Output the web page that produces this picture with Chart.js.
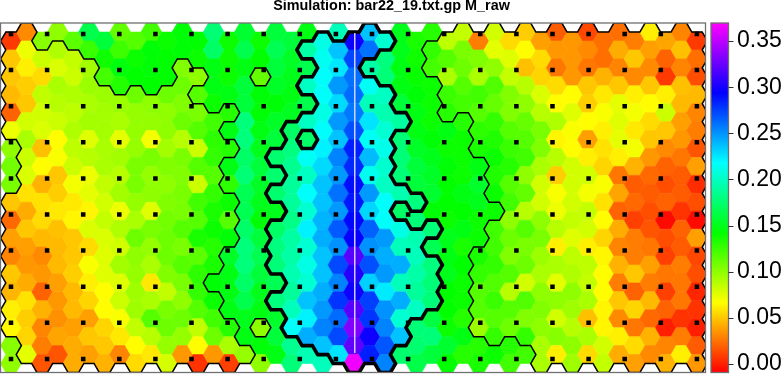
<!DOCTYPE html>
<html>
<head>
<meta charset="utf-8">
<style>
    html, body { margin: 0; padding: 0; background: #fff; }
    canvas { display: block; }
</style>
<script src="https://cdn.jsdelivr.net/npm/chart.js@4"></script>
</head>
<body>
<canvas id="grafico" width="783" height="374"></canvas>
<script>
// M_raw por coluna de hexagonos (x 1000), de cima para baixo
const col00 = [8,50,50,46,20,72,100,108,106,50,22,38,30,50,45,62,65,102,100];
const col01 = [32,72,62,52,50,80,92,82,78,58,42,50,38,36,42,58,52,54,75];
const col02 = [102,82,56,85,80,78,48,66,44,58,56,46,32,36,20,44,30,28,16];
const col03 = [100,90,78,92,88,82,66,68,50,52,60,48,46,46,38,36,34,40,16];
const col04 = [115,84,82,90,86,90,86,82,70,60,64,50,50,52,46,46,38,42,42];
const col05 = [165,125,94,96,92,94,76,88,72,74,64,78,56,68,62,54,38,50,38];
const col06 = [160,138,122,96,94,94,92,92,85,80,84,78,76,76,66,66,54,50,44];
const col07 = [113,124,146,132,96,92,74,94,88,94,72,90,80,94,76,82,68,60,30];
const col08 = [117,139,142,110,98,98,98,106,106,98,92,110,100,98,95,95,85,66,56];
const col09 = [123,144,144,142,100,98,70,106,98,100,76,106,98,92,60,92,117,88,60];
const col10 = [139,142,142,110,100,100,94,104,100,104,108,110,110,104,85,106,110,98,79];
const col11 = [144,144,104,110,104,110,88,106,104,106,106,117,106,117,106,100,110,98,36];
const col12 = [142,139,100,117,106,117,82,117,82,123,117,135,115,129,127,117,85,66,6];
const col13 = [177,172,148,148,139,123,129,127,117,127,135,139,131,135,144,139,123,110,36];
const col14 = [139,139,139,148,131,148,131,148,129,139,117,144,154,148,148,148,131,92,10];
const col15 = [157,165,148,160,160,179,179,173,177,167,167,173,179,179,173,165,150,148,98];
const col16 = [139,142,112,144,144,148,150,160,154,150,144,160,167,160,150,148,100,145,100];
const col17 = [160,167,160,154,144,154,160,175,175,175,150,172,180,178,167,180,155,160,148];
const col18 = [160,154,150,148,152,172,180,185,188,188,182,190,192,195,188,198,217,185,178];
const col19 = [148,192,165,200,165,200,172,215,200,217,205,222,205,210,205,236,222,242,196];
const col20 = [210,214,217,217,210,217,222,229,236,236,240,242,236,236,242,248,255,236,198];
const col21 = [198,236,225,248,229,248,236,255,248,260,248,267,250,272,255,278,262,272,226];
const col22 = [298,273,260,262,258,270,285,282,290,287,292,296,320,305,298,320,332,323,365];
const col23 = [236,260,192,215,198,226,215,238,214,248,230,265,250,270,232,275,278,298,285];
const col24 = [205,180,178,200,195,205,212,204,200,217,217,248,242,248,224,250,255,268,255];
const col25 = [150,150,148,148,160,190,178,178,178,195,172,210,198,242,198,242,205,236,175];
const col26 = [135,138,140,144,148,148,154,160,160,180,178,195,198,192,188,200,178,175,164];
const col27 = [131,127,122,139,139,139,144,150,154,157,144,178,167,180,178,178,162,178,160];
const col28 = [86,117,92,125,131,148,139,144,142,142,139,150,148,150,142,142,139,156,142];
const col29 = [84,106,110,117,122,131,139,139,139,148,142,148,135,142,139,139,131,148,131];
const col30 = [28,104,92,123,117,129,135,148,155,150,139,139,135,127,117,117,96,131,135];
const col31 = [80,75,100,118,112,127,133,139,133,139,139,123,123,127,118,125,117,127,139];
const col32 = [56,76,84,104,104,117,125,131,117,123,100,110,104,117,88,117,110,131,123];
const col33 = [52,66,48,88,100,112,117,123,100,113,88,117,106,110,80,118,104,127,123];
const col34 = [38,56,54,78,88,106,104,92,80,80,100,106,96,92,100,104,100,92,92];
const col35 = [18,36,26,56,66,90,64,88,52,68,72,88,62,92,75,100,80,102,62];
const col36 = [36,36,36,66,76,68,66,80,80,80,84,76,86,90,100,95,88,100,95];
const col37 = [12,32,26,50,52,66,38,62,80,70,84,80,62,86,84,92,48,92,56];
const col38 = [24,24,44,60,68,62,58,54,68,58,66,54,64,66,66,64,64,80,84];
const col39 = [24,42,30,50,74,76,74,62,26,40,20,42,30,44,28,50,32,62,42];
const col40 = [28,50,32,62,70,60,70,44,18,22,10,28,28,50,20,54,26,56,38];
const col41 = [62,38,32,50,66,56,50,36,22,18,14,16,26,38,28,46,22,44,32];
const col42 = [40,20,8,62,82,50,32,20,14,20,-6,14,10,26,10,20,0,30,44];
const col43 = [30,48,30,48,46,38,36,26,18,18,6,20,18,28,26,26,6,28,62];
const col44 = [8,24,14,46,30,28,16,38,4,14,-6,38,12,14,2,6,0,18,36];

const colunas = [col00,col01,col02,col03,col04,col05,col06,col07,col08,col09,col10,col11,col12,col13,col14,
    col15,col16,col17,col18,col19,col20,col21,col22,col23,col24,col25,col26,col27,col28,col29,
    col30,col31,col32,col33,col34,col35,col36,col37,col38,col39,col40,col41,col42,col43,col44];

// contornos: por coluna, pares [de, ate] de linhas dentro da regiao
const regiaoFina = {
    0: [0,5,9,16], 1: [0,18], 2: [1,18], 3: [1,18], 4: [1,18], 5: [2,18], 6: [3,18], 7: [4,18], 8: [3,18],
    9: [4,18], 10: [3,18], 11: [2,18], 12: [2,2,4,18], 13: [5,13,15,18], 14: [4,4,6,6,9,11,16,18],
    15: [18,18], 16: [2,2,16,16],
    27: [1,2], 28: [0,4], 29: [0,4], 30: [0,6,12,16], 31: [0,9,11,17], 32: [0,16], 33: [0,17],
    34: [0,18], 35: [0,18], 36: [0,18], 37: [0,18], 38: [0,18], 39: [0,18], 40: [0,18], 41: [0,18],
    42: [0,18], 43: [0,18], 44: [0,18]
};
const regiaoGrossa = {
    17: [7,7,9,9,11,13,15,15], 18: [5,16], 19: [1,1,3,3,5,5,7,17], 20: [0,17], 21: [1,18], 22: [0,18],
    23: [0,1,3,18], 24: [0,0,3,18], 25: [5,5,9,9,11,17], 26: [9,9,11,15], 27: [11,11,13,15]
};

const pontosX = [0,1,2,3,4,5,6,7,8,9,10,11,12,13,14,15,16,17,18,19];
const pontosY = [0,1,2,3,4,5,6,7,8,9];
const linhaCentralX = [9.523, 9.523];
const linhaCentralY = [-0.03, 8.84];
const ticksBarra = [0, 0.05, 0.1, 0.15, 0.2, 0.25, 0.3, 0.35];

// geometria da grade em unidades dos pontos pretos
const passoColuna = 0.4319;
const passoLinha = 0.4964;
const inicioPar = 0.194;
const inicioImpar = -0.055;
const raio = 0.288;
const meiaAltura = 0.2482;

const barraMin = -0.0091;
const barraMax = 0.3695;

function corDoValor(v) {
    let h = 300 * (v - barraMin) / (barraMax - barraMin);
    h = Math.max(0, Math.min(300, h));
    return `hsl(${h}, 100%, 50%)`;
}

function centro(k, r) {
    return {
        x: k * passoColuna,
        y: (k % 2 == 0 ? inicioPar : inicioImpar) + r * passoLinha
    };
}

function estaNaRegiao(regiao, k, r) {
    let faixas = regiao[k];
    if (!faixas) return false;
    for (let i = 0; i < faixas.length; i += 2) {
        if (r >= faixas[i] && r <= faixas[i + 1]) return true;
    }
    return false;
}

// vizinhos de cada lado do hexagono e os vertices da aresta compartilhada
function segmentosContorno(regiao) {
    let saida = [];
    let cantos = [
        [-raio, 0], [-raio / 2, -meiaAltura], [raio / 2, -meiaAltura],
        [raio, 0], [raio / 2, meiaAltura], [-raio / 2, meiaAltura]
    ];
    for (let k = 0; k < colunas.length; k++) {
        for (let r = 0; r < colunas[k].length; r++) {
            if (!estaNaRegiao(regiao, k, r)) continue;
            let d = k % 2 == 0 ? 0 : -1;
            let viz = [
                [k - 1, r + d, 0, 1], [k, r - 1, 1, 2], [k + 1, r + d, 2, 3],
                [k + 1, r + d + 1, 3, 4], [k, r + 1, 4, 5], [k - 1, r + d + 1, 5, 0]
            ];
            let c = centro(k, r);
            viz.forEach((v) => {
                if (!estaNaRegiao(regiao, v[0], v[1])) {
                    saida.push({ x: c.x + cantos[v[2]][0], y: c.y + cantos[v[2]][1] });
                    saida.push({ x: c.x + cantos[v[3]][0], y: c.y + cantos[v[3]][1] });
                    saida.push({ x: NaN, y: NaN });
                }
            });
        }
    }
    return saida;
}

let hexagonos = [];
let coresHex = [];
colunas.forEach((coluna, k) => {
    coluna.forEach((valor, r) => {
        hexagonos.push(centro(k, r));
        coresHex.push(corDoValor(valor / 1000));
    });
});

let pontos = [];
pontosY.forEach((y) => pontosX.forEach((x) => pontos.push({ x: x, y: y })));

const pluginHex = {
    id: 'hexagonos',
    beforeDatasetsDraw(chart) {
        let ctx = chart.ctx;
        let area = chart.chartArea;
        let meta = chart.getDatasetMeta(0);
        let rx = chart.scales.x.getPixelForValue(raio) - chart.scales.x.getPixelForValue(0);
        let ry = chart.scales.y.getPixelForValue(meiaAltura) - chart.scales.y.getPixelForValue(0);
        ctx.save();
        ctx.beginPath();
        ctx.rect(area.left, area.top, area.width, area.height);
        ctx.clip();
        meta.data.forEach((p, i) => {
            ctx.fillStyle = coresHex[i];
            ctx.strokeStyle = coresHex[i];
            ctx.lineWidth = 0.6;
            ctx.beginPath();
            ctx.moveTo(p.x - rx, p.y);
            ctx.lineTo(p.x - rx / 2, p.y - ry);
            ctx.lineTo(p.x + rx / 2, p.y - ry);
            ctx.lineTo(p.x + rx, p.y);
            ctx.lineTo(p.x + rx / 2, p.y + ry);
            ctx.lineTo(p.x - rx / 2, p.y + ry);
            ctx.closePath();
            ctx.fill();
            ctx.stroke();
        });
        ctx.restore();
    },
    afterDraw(chart) {
        // moldura do grafico e barra de cores
        let ctx = chart.ctx;
        let area = chart.chartArea;
        let escala = chart.scales.barra;
        let xb = 711;
        let lb = 17.5;
        let topo = escala.getPixelForValue(barraMax);
        let base = escala.getPixelForValue(barraMin);
        let grad = ctx.createLinearGradient(0, base, 0, topo);
        for (let h = 0; h <= 300; h += 60) {
            grad.addColorStop(h / 300, `hsl(${h}, 100%, 50%)`);
        }
        ctx.save();
        ctx.fillStyle = grad;
        ctx.fillRect(xb, topo, lb, base - topo);
        ctx.strokeStyle = '#707070';
        ctx.lineWidth = 1.3;
        ctx.strokeRect(xb, topo, lb, base - topo);
        ctx.strokeRect(area.left + 0.5, area.top, area.width - 0.5, area.height);
        ctx.strokeStyle = '#303030';
        ctx.lineWidth = 1;
        ticksBarra.forEach((t) => {
            let y = Math.round(escala.getPixelForValue(t)) + 0.5;
            ctx.beginPath();
            ctx.moveTo(xb + lb, y);
            ctx.lineTo(xb + lb + 5, y);
            ctx.stroke();
        });
        ctx.restore();
    }
};

const config = {
    type: 'scatter',
    data: {
        datasets: [
            { label: 'M_raw', data: hexagonos, pointRadius: 0, order: 5 },
            {
                label: 'contorno fino', data: segmentosContorno(regiaoFina), showLine: true, spanGaps: false,
                borderColor: '#000', borderWidth: 1.5, borderCapStyle: 'round', pointRadius: 0, order: 4
            },
            {
                label: 'contorno grosso', data: segmentosContorno(regiaoGrossa), showLine: true, spanGaps: false,
                borderColor: '#000', borderWidth: 3.6, borderCapStyle: 'round', pointRadius: 0, order: 3
            },
            {
                label: 'linha central',
                data: linhaCentralX.map((x, i) => ({ x: x, y: linhaCentralY[i] })),
                showLine: true, borderColor: '#dcdcff', borderWidth: 1.4, pointRadius: 0, order: 2
            },
            {
                label: 'pontos', data: pontos, pointStyle: 'rect', pointRadius: 3.2,
                backgroundColor: '#000', borderWidth: 0, order: 1
            }
        ]
    },
    options: {
        responsive: false,
        animation: false,
        layout: { autoPadding: false, padding: { left: 0, right: 0, top: 0, bottom: 1.5 } },
        plugins: {
            legend: { display: false },
            tooltip: { enabled: false },
            title: {
                display: true,
                text: 'Simulation: bar22_19.txt.gp M_raw',
                color: '#000',
                font: { family: '"Liberation Sans"', size: 14.4, weight: 'bold', lineHeight: 1 },
                padding: { top: -1.4, bottom: 10 }
            }
        },
        scales: {
            x: { type: 'linear', min: -11 / 36.1, max: 694.5 / 36.1, display: false },
            y: { type: 'linear', reverse: true, min: -11 / 36.1, max: 338.5 / 36.1, display: false },
            barra: {
                type: 'linear',
                position: 'right',
                min: barraMin,
                max: barraMax,
                grid: { display: false, drawTicks: false },
                border: { display: false },
                afterFit(escala) {
                    escala.width = 77.5;
                    escala.paddingTop = 0;
                    escala.paddingBottom = 0;
                },
                afterBuildTicks(escala) { escala.ticks = ticksBarra.map((v) => ({ value: v })); },
                ticks: {
                    color: '#000',
                    padding: 31.5,
                    maxRotation: 0,
                    font: { family: '"Liberation Sans"', size: 23 },
                    callback: (v) => v.toFixed(2)
                }
            }
        }
    },
    plugins: [pluginHex]
};

let myChart = new Chart(document.getElementById('grafico'), config);
</script>
</body>
</html>
